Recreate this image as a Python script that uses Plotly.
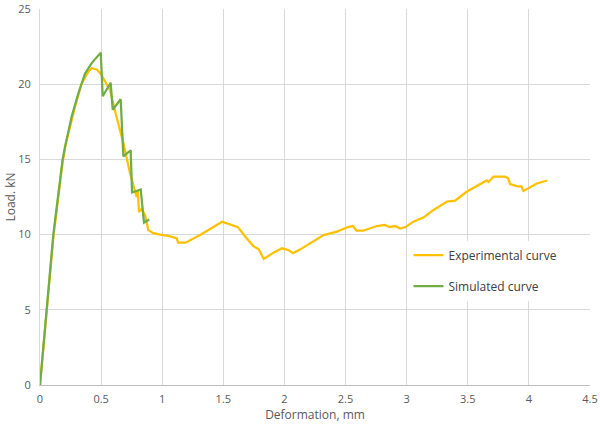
import plotly.graph_objects as go

exp_x = [0, 0.055, 0.109, 0.185, 0.213, 0.259, 0.286, 0.341, 0.395, 0.423, 0.464, 0.497,
         0.573, 0.627, 0.682, 0.736, 0.791, 0.80, 0.81, 0.83, 0.86, 0.886, 0.927, 0.982,
         1.06, 1.12, 1.13, 1.19, 1.31, 1.49, 1.555, 1.62, 1.68, 1.745, 1.79, 1.83, 1.91,
         1.98, 2.03, 2.07, 2.13, 2.32, 2.43, 2.52, 2.56, 2.59, 2.645, 2.755, 2.82, 2.86,
         2.905, 2.946, 2.99, 3.055, 3.14, 3.22, 3.33, 3.396, 3.49, 3.57, 3.655, 3.67, 3.71,
         3.805, 3.83, 3.846, 3.9, 3.94, 3.955, 4.065, 4.13, 4.15]
exp_y = [0, 4.9, 9.8, 14.8, 16.1, 17.6, 18.5, 20.05, 20.83, 21.06, 20.98, 20.7,
         19.6, 17.8, 16.1, 14.1, 12.5, 12.9, 11.5, 11.7, 11.3, 10.3, 10.1, 10.0,
         9.9, 9.75, 9.46, 9.46, 9.97, 10.86, 10.7, 10.5, 9.86, 9.24, 9.02, 8.38, 8.8,
         9.09, 8.98, 8.76, 9.02, 9.97, 10.2, 10.5, 10.57, 10.26, 10.26, 10.57, 10.64, 10.5,
         10.57, 10.4, 10.5, 10.86, 11.15, 11.64, 12.19, 12.26, 12.85, 13.19, 13.6, 13.5, 13.85,
         13.85, 13.74, 13.36, 13.23, 13.19, 12.9, 13.4, 13.58, 13.6]

sim_x = [0, 0.055, 0.109, 0.185, 0.205, 0.259, 0.314, 0.368, 0.423, 0.497, 0.513, 0.578,
         0.595, 0.66, 0.682, 0.742, 0.753, 0.824, 0.851, 0.894]
sim_y = [0, 5, 10, 15, 15.85, 17.85, 19.4, 20.7, 21.4, 22.1, 19.2, 20.1,
         18.3, 19.0, 15.2, 15.6, 12.8, 13.0, 10.8, 11.0]

x_ticks = [0, 0.5, 1, 1.5, 2, 2.5, 3, 3.5, 4, 4.5]
y_ticks = [0, 5, 10, 15, 20, 25]

font_family = "Open Sans, Noto Sans, sans-serif"
grey = "#595959"

fig = go.Figure()
fig.add_trace(go.Scatter(x=exp_x, y=exp_y, mode="lines", name="Experimental curve",
                         line=dict(color="#FFC000", width=2.25), legendgroup="a"))
fig.add_trace(go.Scatter(x=sim_x, y=sim_y, mode="lines", name="Simulated curve",
                         line=dict(color="#70AD47", width=2.25), legendgroup="b"))

fig.update_layout(
    width=600, height=426,
    margin=dict(l=40, r=10, t=9, b=41),
    paper_bgcolor="white", plot_bgcolor="white",
    font=dict(family=font_family, size=11, color=grey),
    legend=dict(x=0.67, y=0.384, xanchor="left", yanchor="top",
                bgcolor="white", font=dict(size=12, color="#404040"),
                tracegroupgap=12, traceorder="grouped"),
    xaxis=dict(range=[0, 4.5], tickvals=x_ticks, ticktext=[str(v) for v in x_ticks],
               showgrid=True, gridcolor="#d9d9d9", gridwidth=1,
               showline=True, linecolor="#bfbfbf", linewidth=1, zeroline=False,
               ticks="", automargin=False, ticklabelstandoff=4,
               title=dict(text="Deformation, mm", standoff=1, font=dict(size=12, color=grey))),
    yaxis=dict(range=[0, 25], tickvals=y_ticks,
               showgrid=True, gridcolor="#d9d9d9", gridwidth=1,
               showline=True, linecolor="#d9d9d9", linewidth=1, zeroline=False,
               ticks="", automargin=False, ticklabelstandoff=6,
               title=dict(text="Load. kN", standoff=0, font=dict(size=12, color=grey))),
)

fig.write_html("out.html", config={"displayModeBar": False},
               post_script="document.body.style.margin='0px';")
